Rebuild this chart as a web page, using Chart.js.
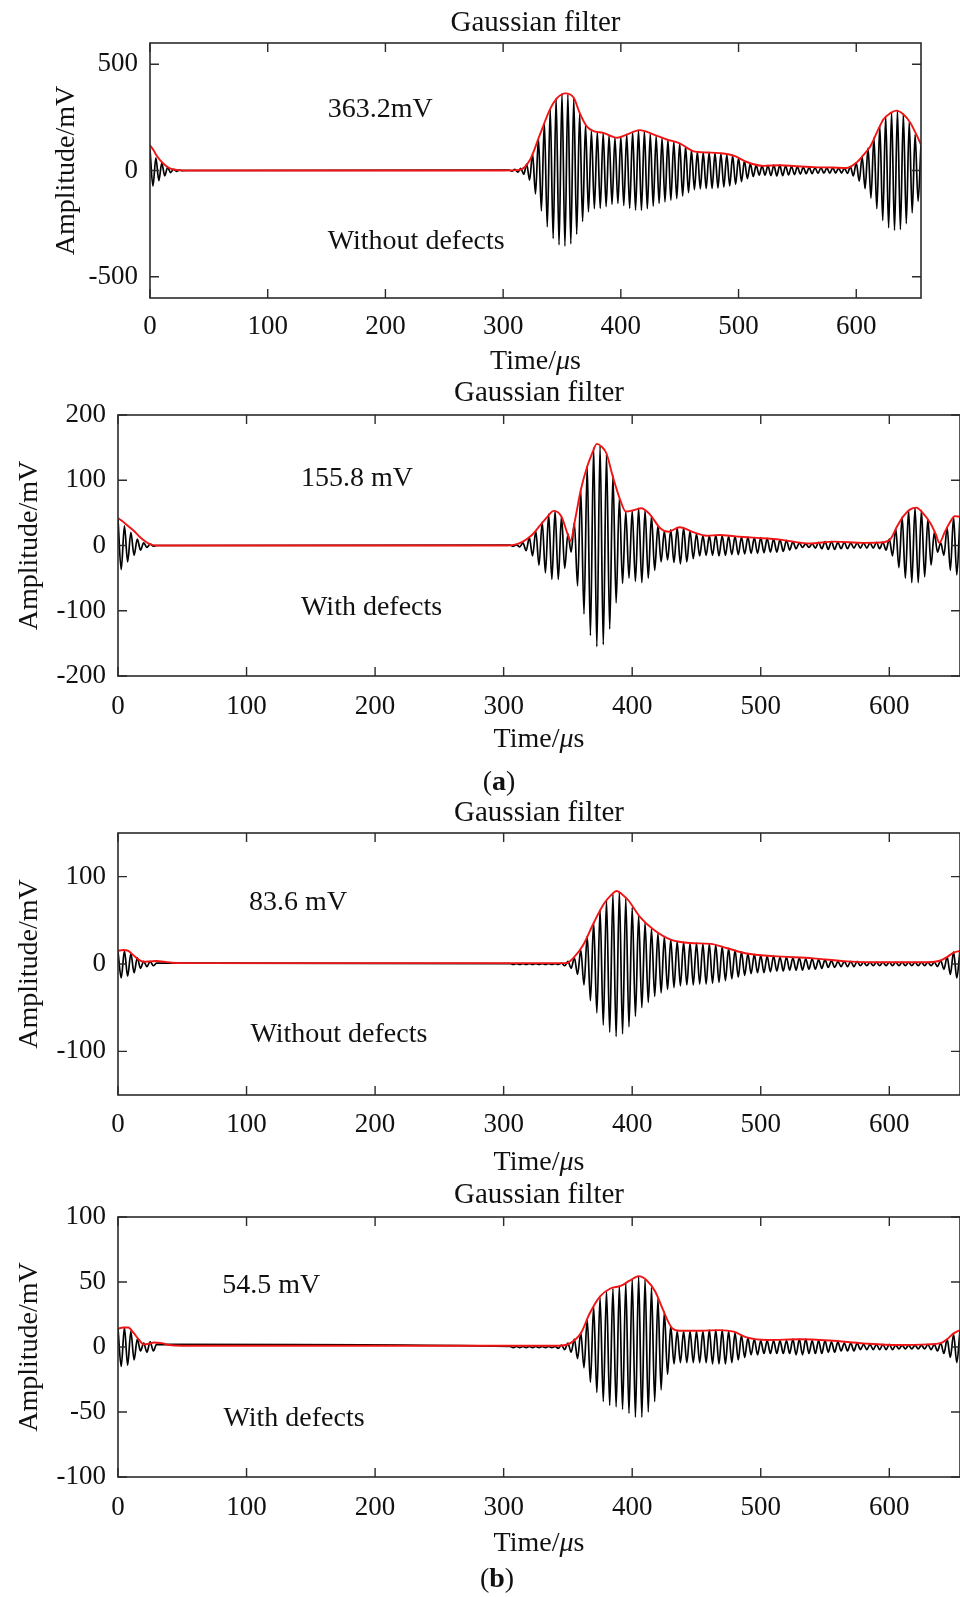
<!DOCTYPE html>
<html>
<head>
<meta charset="utf-8">
<title>Gaussian filter envelopes</title>
<script src="https://cdn.jsdelivr.net/npm/chart.js@4.4.1/dist/chart.umd.min.js"></script>
<style>
    html, body { margin: 0; padding: 0; background: #fff; }
    body { position: relative; width: 960px; height: 1597px; overflow: hidden; }
    canvas { position: absolute; left: 0; }
    .sub {
        position: absolute;
        transform: translate(-50%, -50%);
        font: 28px 'Liberation Serif', 'Times New Roman', serif;
        color: #111;
        white-space: nowrap;
    }
</style>
</head>
<body>
<canvas id="p1" width="960" height="378" style="top:0px"></canvas>
<canvas id="p2" width="960" height="412" style="top:378px"></canvas>
<canvas id="p3" width="960" height="390" style="top:790px"></canvas>
<canvas id="p4" width="960" height="417" style="top:1180px"></canvas>
<div class="sub" style="left:499px; top:781px">(<b>a</b>)</div>
<div class="sub" style="left:497px; top:1578px">(<b>b</b>)</div>

<script>
// ---------- data (time in µs, amplitude in mV) ----------
const xTicks = [0, 100, 200, 300, 400, 500, 600];
const yTicks1 = [-500, 0, 500];
const yTicks2 = [-200, -100, 0, 100, 200];
const yTicks3 = [-100, 0, 100];
const yTicks4 = [-100, -50, 0, 50, 100];

// ringing right at the start of the record
const startTimes = [0, 2.5, 5, 7.5, 10, 12.5, 15, 17.5, 20, 22.5, 25, 27.5, 30];

// extrema of the received wave packet
const burstTimes = [
    305, 307.5, 310, 312.5, 315, 317.5, 320, 322.5, 325, 327.5,
    330, 332.5, 335, 337.5, 340, 342.5, 345, 347.5, 350, 352.5,
    355, 357.5, 360, 362.5, 365, 367.5, 370, 372.5, 375, 377.5,
    380, 382.5, 385, 387.5, 390, 392.5, 395, 397.5, 400, 402.5,
    405, 407.5, 410, 412.5, 415, 417.5, 420, 422.5, 425, 427.5,
    430, 432.5, 435, 437.5, 440, 442.5, 445, 447.5, 450, 452.5,
    455, 457.5, 460, 462.5, 465, 467.5, 470, 472.5, 475, 477.5,
    480, 482.5, 485, 487.5, 490, 492.5, 495, 497.5, 500, 502.5,
    505, 507.5, 510, 512.5, 515, 517.5, 520, 522.5, 525, 527.5,
    530, 532.5, 535, 537.5, 540, 542.5, 545, 547.5, 550, 552.5,
    555, 557.5, 560, 562.5, 565, 567.5, 570, 572.5, 575, 577.5,
    580, 582.5, 585, 587.5, 590, 592.5, 595, 597.5, 600, 602.5,
    605, 607.5, 610, 612.5, 615, 617.5, 620, 622.5, 625, 627.5,
    630, 632.5, 635, 637.5, 640, 642.5, 645, 647.5, 650, 652.5,
    655
];

// (a) without defects
const start1 = [100, -74, 60, -48, 35, -25, 15, -10, 6, -4, 2, -1, 0];
const burst1 = [
    2, -3, 5, -8, 10, -18, 30, -45, 80, -110,
    150, -190, 225, -265, 290, -320, 340, -350, 362, -356,
    358, -345, 340, -300, 270, -240, 215, -195, 185, -180,
    182, -178, 177, -170, 165, -160, 155, -155, 160, -165,
    170, -178, 182, -186, 190, -188, 185, -180, 172, -168,
    162, -155, 152, -148, 145, -140, 136, -132, 128, -120,
    112, -104, 95, -90, 88, -86, 85, -85, 85, -84,
    83, -82, 80, -78, 75, -72, 70, -65, 60, -52,
    45, -38, 32, -28, 25, -22, 22, -22, 23, -24,
    25, -25, 25, -24, 22, -21, 20, -19, 18, -17,
    16, -15, 15, -15, 14, -14, 14, -13, 13, -13,
    13, -12, 12, -12, 12, -14, 18, -25, 36, -50,
    65, -85, 105, -130, 155, -180, 210, -235, 255, -270,
    275, -282, 282, -278, 265, -250, 228, -200, 170, -145,
    122
];
const env1T = [0, 3, 6, 10, 14, 18, 24, 30, 150, 300,
    314, 323, 331, 340, 346, 353, 360, 365, 371, 377,
    385, 397, 405, 416, 428, 439, 450, 462, 473, 484,
    496, 507, 521, 535, 549, 564, 580, 592, 600, 606,
    612, 618, 623, 629, 634, 640, 646, 651, 655];
const env1V = [119, 95, 67, 40, 20, 8, 2, 0, 0, 0,
    3, 52, 165, 290, 342, 363, 342, 271, 208, 185,
    177, 154, 169, 190, 169, 146, 128, 90, 85, 82,
    70, 40, 22, 25, 20, 16, 14, 12, 36, 72,
    114, 185, 240, 270, 282, 265, 224, 170, 122];

// (a) with defects
const start2 = [40, -37, 30, -25, 20, -15, 10, -7, 4, -3, 2, -1, 0];
const burst2 = [
    0.5, -1, 1, -2, 4, -8, 12, -16, 22, -30,
    36, -42, 48, -52, 53, -52, 45, -35, 18, -10,
    35, -62, 85, -105, 122, -138, 150, -155, 153, -152,
    140, -128, 108, -88, 72, -58, 52, -50, 53, -55,
    57, -57, 54, -50, 45, -38, 30, -25, 22, -22,
    24, -26, 27, -28, 27, -25, 22, -20, 18, -16,
    15, -15, 15, -15, 16, -16, 15, -15, 14, -14,
    14, -14, 13, -13, 13, -12, 12, -12, 12, -11,
    11, -10, 10, -10, 9, -9, 8, -7, 6, -5,
    4, -3, 3, -3, 3, -4, 5, -5, 6, -6,
    6, -6, 5, -5, 5, -5, 4, -4, 4, -4,
    4, -4, 4, -4, 5, -5, 5, -7, 10, -16,
    26, -34, 44, -50, 54, -57, 58, -57, 54, -48,
    40, -30, 20, -10, 4, -15, 28, -38, 44, -45,
    44
];
const env2T = [0, 3, 6, 9, 12, 16, 20, 24, 30, 150,
    300, 308, 315, 322, 328, 334, 339, 345, 350, 352,
    356, 360, 365, 369, 372.5, 376, 380, 385, 391, 395,
    401, 407, 414, 422, 428, 437, 448, 458, 468, 480,
    494, 515, 538, 557, 580, 596, 601, 606, 611, 616,
    621, 626, 632, 636, 639, 643, 647, 651, 655];
const env2V = [42, 38, 33, 28, 23, 15, 8, 3, 0, 0,
    0, 1, 6, 16, 30, 44, 53, 44, 16, 7,
    44, 85, 121, 142, 155.8, 152, 141, 105, 68, 52,
    54, 57, 47, 26, 21, 28, 20, 15, 16, 14,
    12, 9, 3, 6, 4, 5, 10, 29, 45, 55,
    58, 50, 34, 18, 4, 20, 35, 45, 44];

// (b) without defects
const start3 = [14, -16, 15, -14, 12, -10, 7, -5, 3, -3, 3, -2, 1];
const burst3 = [
    0.5, -0.5, 0.5, -0.5, 0.5, -0.5, 0.5, -0.5, 0.5, -0.5,
    0.5, -0.5, 0.5, -0.5, 0.5, -0.5, 1, -2, 3, -5,
    7, -12, 16, -24, 32, -42, 48, -56, 62, -70,
    73, -78, 80, -83, 83, -80, 75, -72, 65, -60,
    55, -50, 47, -44, 40, -37, 35, -33, 31, -29,
    28, -27, 26, -25, 25, -24, 24, -24, 24, -23,
    23, -23, 23, -22, 22, -21, 20, -19, 18, -17,
    16, -15, 14, -13, 12, -11, 11, -10, 10, -10,
    9, -9, 9, -8, 8, -8, 8, -7, 7, -7,
    7, -7, 6, -6, 6, -6, 5, -5, 5, -4,
    4, -4, 3, -3, 3, -3, 3, -3, 3, -2,
    2, -2, 2, -2, 2, -2, 2, -2, 2, -2,
    2, -2, 2, -2, 2, -2, 2, -2, 2, -2,
    2, -2, 2, -3, 4, -6, 8, -12, 14, -16,
    16
];
const env3T = [0, 4, 8, 12, 16, 20, 25, 30, 36, 42,
    50, 150, 300, 349, 354, 362, 370, 378, 383, 388,
    392, 397, 406, 417, 430, 445, 461, 474, 489, 510,
    541, 567, 590, 630, 640, 645, 650, 655];
const env3V = [15, 16, 15, 10, 5, 2.5, 3, 3.5, 2.5, 1.5,
    1, 1, 1, 1, 6.5, 22, 47, 69, 78, 83.6,
    80, 73, 54, 39, 28, 24, 23, 18, 12, 9,
    6.5, 3, 2, 2, 4, 8, 13, 15];

// (b) with defects
const start4 = [14, -15, 15, -14, 12, -10, 6, -3, 3, -4, 4, -3, 2];
const burst4 = [
    0.5, -0.5, 0.5, -0.5, 0.5, -0.5, 0.5, -0.5, 0.5, -0.5,
    0.5, -0.5, 0.5, -0.5, 0.5, -1, 1.5, -2, 3, -4,
    6, -9, 11, -16, 21, -27, 31, -35, 38, -42,
    43, -45, 45, -46, 47, -48, 49, -51, 52, -54,
    54, -54, 52, -50, 46, -42, 37, -33, 27, -21,
    16, -13, 12, -12, 12, -12, 12, -12, 12, -12,
    12, -12, 13, -13, 13, -13, 13, -13, 12, -12,
    11, -10, 9, -8, 7, -6, 6, -6, 5, -5,
    5, -5, 5, -5, 5, -5, 5, -5, 6, -6,
    6, -6, 6, -5, 5, -5, 5, -5, 5, -4,
    4, -4, 4, -3, 3, -3, 3, -3, 3, -2,
    2, -2, 2, -2, 2, -2, 2, -2, 2, -2,
    1.5, -1.5, 1.5, -1.5, 1.5, -1.5, 1.5, -1.5, 1.5, -1.5,
    2, -2, 2, -3, 3, -5, 6, -8, 10, -12,
    13
];
const env4T = [0, 4, 8, 12, 16, 20, 24, 28, 34, 40,
    50, 150, 300, 344, 352, 360, 367, 375, 383, 391,
    398, 405, 411, 418, 424, 431, 437, 453, 468, 479,
    489, 505, 531, 554, 580, 606, 630, 640, 645, 650,
    655];
const env4V = [14, 15, 15, 11, 6, 2, 2.5, 3.5, 3, 1.5,
    1, 1, 1, 1, 3, 10.5, 26, 39, 45, 47,
    51, 54.5, 51.5, 42.5, 28.5, 14.5, 12.5, 12.5, 13, 11.8,
    7.4, 5.4, 6, 5, 2.8, 1.5, 2, 3, 6, 10.5,
    13];

// ---------- layout ----------
const FONT = "'Liberation Serif', 'Times New Roman', serif";
const TEXT = '#111';
const AXIS = '#2b2b2b';
const RED = '#f01414';

const panels = [
    { id: 'p1', h: 378, left: 150, padRight: 39, top: 43, bottom: 298, titleY: 23, xTitleY: 362, yTitleX: 67,
      xTickPad: 15.5, yMin: -600, yMax: 600, yTicks: yTicks1,
      start: start1, burst: burst1, envT: env1T, envV: env1V,
      notes: [{ text: '363.2mV', x: 151, y: 287 }, { text: 'Without defects', x: 151, y: -334 }] },
    { id: 'p2', h: 412, left: 118, padRight: 0, top: 37, bottom: 298, titleY: 15, xTitleY: 362, yTitleX: 30,
      xTickPad: 17.5, yMin: -200, yMax: 200, yTicks: yTicks2,
      start: start2, burst: burst2, envT: env2T, envV: env2V,
      notes: [{ text: '155.8 mV', x: 142.4, y: 103 }, { text: 'With defects', x: 142.4, y: -96 }] },
    { id: 'p3', h: 390, left: 118, padRight: 0, top: 43, bottom: 305, titleY: 23, xTitleY: 373, yTitleX: 30,
      xTickPad: 16.5, yMin: -150, yMax: 150, yTicks: yTicks3,
      start: start3, burst: burst3, envT: env3T, envV: env3V,
      notes: [{ text: '83.6 mV', x: 102, y: 70 }, { text: 'Without defects', x: 103, y: -81 }] },
    { id: 'p4', h: 417, left: 118, padRight: 0, top: 37, bottom: 297, titleY: 15, xTitleY: 364, yTitleX: 30,
      xTickPad: 17.5, yMin: -100, yMax: 100, yTicks: yTicks4,
      start: start4, burst: burst4, envT: env4T, envV: env4V,
      notes: [{ text: '54.5 mV', x: 81, y: 47 }, { text: 'With defects', x: 82, y: -55 }] }
];

function toPoints(ts, vs) {
    return ts.map((t, i) => ({ x: t, y: vs[i] }));
}

// box, inward ticks, in-plot notes and the x title with an italic mu
function makeDecor(p) {
    return {
        id: 'decor_' + p.id,
        afterDatasetsDraw(chart) {
            const { ctx, chartArea: a, scales } = chart;
            const xs = scales.x, ys = scales.y;
            ctx.save();
            ctx.strokeStyle = AXIS;
            ctx.lineWidth = 1.4;
            ctx.beginPath();
            xs.ticks.forEach(tk => {
                const px = xs.getPixelForValue(tk.value);
                ctx.moveTo(px, a.bottom); ctx.lineTo(px, a.bottom - 9);
                ctx.moveTo(px, a.top); ctx.lineTo(px, a.top + 9);
            });
            ys.ticks.forEach(tk => {
                const py = ys.getPixelForValue(tk.value);
                ctx.moveTo(a.left, py); ctx.lineTo(a.left + 9, py);
                ctx.moveTo(a.right, py); ctx.lineTo(a.right - 9, py);
            });
            ctx.stroke();
            ctx.lineWidth = 1.6;
            ctx.strokeRect(a.left, a.top, a.right - a.left, a.bottom - a.top);

            ctx.fillStyle = TEXT;
            ctx.textBaseline = 'middle';
            ctx.textAlign = 'left';
            ctx.font = '28px ' + FONT;
            p.notes.forEach(n => {
                ctx.fillText(n.text, xs.getPixelForValue(n.x), ys.getPixelForValue(n.y));
            });

            // Time/µs
            const parts = [['Time/', '28px ' + FONT], ['\u03bc', 'italic 28px ' + FONT], ['s', '28px ' + FONT]];
            let total = 0;
            parts.forEach(pt => { ctx.font = pt[1]; total += ctx.measureText(pt[0]).width; });
            let cx = (a.left + a.right) / 2 - total / 2;
            parts.forEach(pt => {
                ctx.font = pt[1];
                ctx.fillText(pt[0], cx, p.xTitleY);
                cx += ctx.measureText(pt[0]).width;
            });
            ctx.restore();
        }
    };
}

panels.forEach(p => {
    const signal = toPoints(startTimes, p.start).concat(toPoints(burstTimes, p.burst));
    const envelope = toPoints(p.envT, p.envV);
    const ctx = document.getElementById(p.id).getContext('2d');

    new Chart(ctx, {
        type: 'line',
        data: {
            datasets: [
                {
                    label: 'Envelope',
                    data: envelope,
                    borderColor: RED,
                    borderWidth: 1.9,
                    pointRadius: 0,
                    cubicInterpolationMode: 'monotone',
                    fill: false
                },
                {
                    label: 'Signal',
                    data: signal,
                    borderColor: '#000',
                    borderWidth: 1.7,
                    pointRadius: 0,
                    cubicInterpolationMode: 'monotone',
                    fill: false
                }
            ]
        },
        options: {
            responsive: false,
            animation: false,
            events: [],
            layout: { padding: { left: 0, right: p.padRight, top: 0, bottom: 0 } },
            plugins: {
                legend: { display: false },
                tooltip: { enabled: false },
                title: {
                    display: true,
                    text: 'Gaussian filter',
                    fullSize: false,
                    color: TEXT,
                    font: { family: FONT, size: 29, weight: 'normal', lineHeight: 1 },
                    padding: { top: p.titleY - 14.5, bottom: p.top - p.titleY - 14.5 }
                }
            },
            scales: {
                x: {
                    type: 'linear',
                    min: 0,
                    max: 655,
                    grid: { display: false, drawTicks: false },
                    border: { display: false },
                    ticks: {
                        color: TEXT,
                        font: { family: FONT, size: 27, lineHeight: 1 },
                        padding: p.xTickPad,
                        maxRotation: 0,
                        autoSkip: false,
                        callback: v => String(v)
                    },
                    afterBuildTicks: s => { s.ticks = xTicks.map(v => ({ value: v })); },
                    afterFit: s => { s.height = p.h - p.bottom; }
                },
                y: {
                    type: 'linear',
                    min: p.yMin,
                    max: p.yMax,
                    grid: { display: false, drawTicks: false },
                    border: { display: false },
                    title: {
                        display: true,
                        text: 'Amplitude/mV',
                        color: TEXT,
                        font: { family: FONT, size: 28, lineHeight: 1 },
                        padding: { top: p.yTitleX - 14, bottom: 0 }
                    },
                    ticks: {
                        color: TEXT,
                        font: { family: FONT, size: 27, lineHeight: 1 },
                        padding: 12,
                        autoSkip: false,
                        callback: v => String(v)
                    },
                    afterBuildTicks: s => { s.ticks = p.yTicks.map(v => ({ value: v })); },
                    afterFit: s => { s.width = p.left; }
                }
            }
        },
        plugins: [makeDecor(p)]
    });
});
</script>
</body>
</html>
